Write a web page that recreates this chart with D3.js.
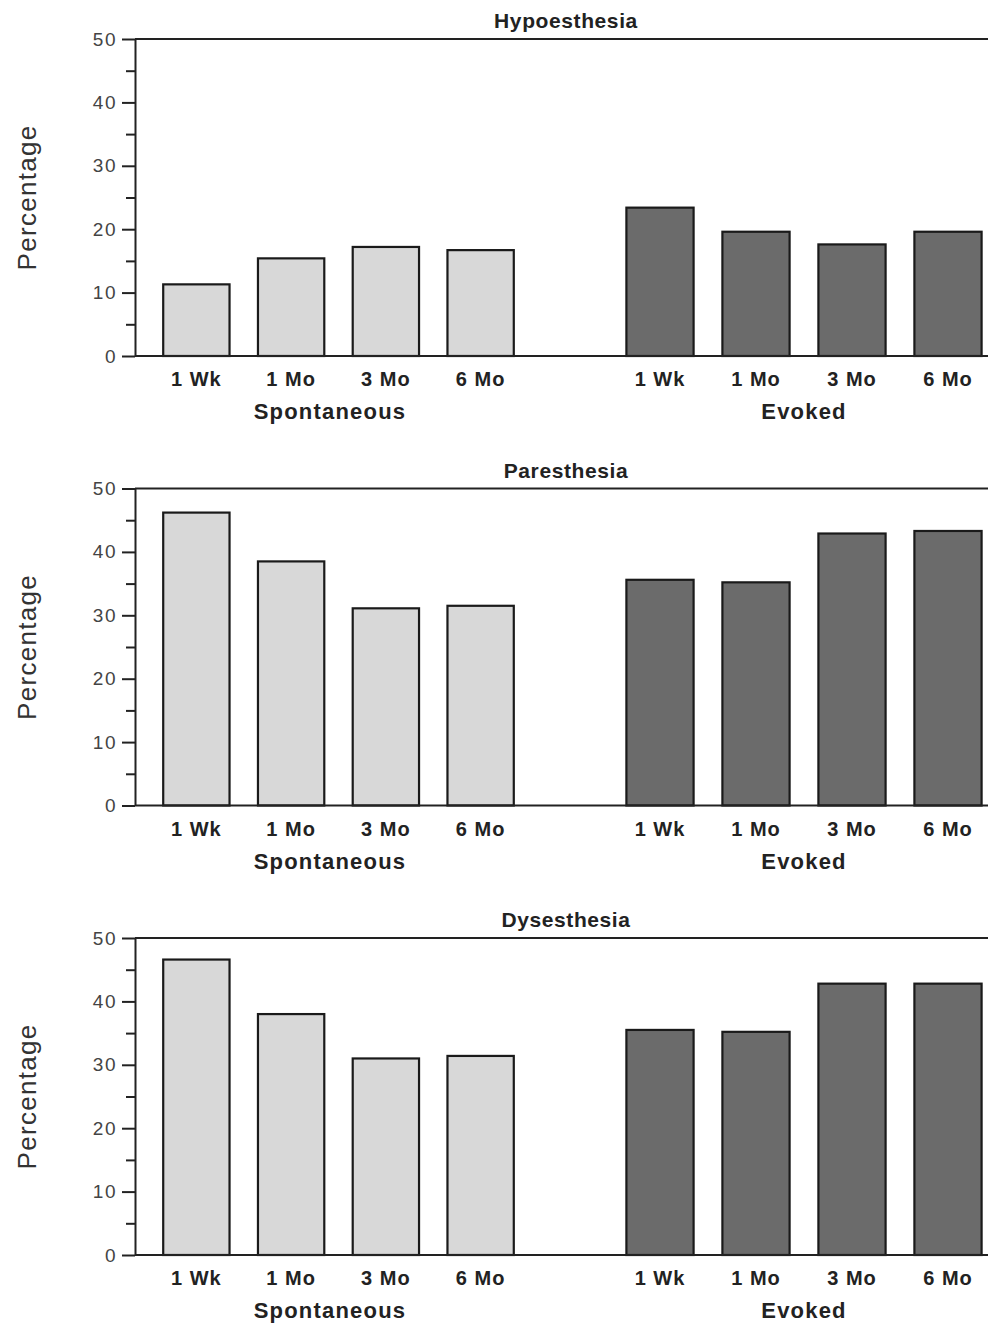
<!DOCTYPE html>
<html>
<head>
<meta charset="utf-8">
<script src="https://cdn.jsdelivr.net/npm/d3@7"></script>
<style>
  html, body { margin: 0; padding: 0; background: #fff; }
  svg { display: block; }
  text { font-family: "Liberation Sans", Arial, sans-serif; }
</style>
</head>
<body>
<div id="chart"></div>
<script>
// ---- Data ----
const timepoints = ["1 Wk", "1 Mo", "3 Mo", "6 Mo"];
const groups = ["Spontaneous", "Evoked"];
const panelTitles = ["Hypoesthesia", "Paresthesia", "Dysesthesia"];
const yTicks = [0, 10, 20, 30, 40, 50];
const yMinorTicks = [5, 15, 25, 35, 45];

const hypoSpontaneous = [11.3, 15.4, 17.2, 16.7];
const hypoEvoked      = [23.4, 19.6, 17.6, 19.6];
const paraSpontaneous = [46.2, 38.5, 31.1, 31.5];
const paraEvoked      = [35.6, 35.2, 42.9, 43.3];
const dysSpontaneous  = [46.6, 38.0, 31.0, 31.4];
const dysEvoked       = [35.5, 35.2, 42.8, 42.8];

const panels = [
  { title: panelTitles[0], series: [hypoSpontaneous, hypoEvoked] },
  { title: panelTitles[1], series: [paraSpontaneous, paraEvoked] },
  { title: panelTitles[2], series: [dysSpontaneous, dysEvoked] }
];

// ---- Layout ----
const W = 988, H = 1325;
const plotLeft = 135, plotRight = 996;
const panelTops = [39, 488.5, 938];
const plotH = 317;
const groupRanges = [[149, 528], [612, 996]];
const groupLabelX = [330, 804];
const groupFill = ["#d8d8d8", "#6b6b6b"];

const svg = d3.select("#chart").append("svg")
  .attr("width", W).attr("height", H);

panels.forEach((p, pi) => {
  const top = panelTops[pi];
  const g = svg.append("g").attr("transform", `translate(0,${top})`);
  const y = d3.scaleLinear().domain([0, 50]).range([plotH, 0]);

  // title
  g.append("text")
    .attr("x", 566).attr("y", -11)
    .attr("text-anchor", "middle")
    .attr("font-size", 21).attr("font-weight", "bold")
    .attr("letter-spacing", 0.6)
    .attr("fill", "#222")
    .text(p.title);

  // y label
  g.append("text")
    .attr("transform", `translate(36,${plotH / 2}) rotate(-90)`)
    .attr("text-anchor", "middle")
    .attr("font-size", 26)
    .attr("letter-spacing", 1.3)
    .attr("fill", "#333")
    .text("Percentage");

  // bars
  groups.forEach((grp, gi) => {
    const x = d3.scalePoint().domain(timepoints).range(groupRanges[gi]).padding(0.5);
    const bw = x.step() * 0.7;
    g.selectAll(null).data(p.series[gi]).enter().append("rect")
      .attr("x", (d, i) => x(timepoints[i]) - bw / 2)
      .attr("y", d => y(d))
      .attr("width", bw)
      .attr("height", d => plotH - y(d))
      .attr("fill", groupFill[gi])
      .attr("stroke", "#1a1a1a")
      .attr("stroke-width", 2.2);

    // tick labels
    g.selectAll(null).data(timepoints).enter().append("text")
      .attr("x", d => x(d))
      .attr("y", plotH + 30)
      .attr("text-anchor", "middle")
      .attr("font-size", 20).attr("font-weight", "bold")
      .attr("letter-spacing", 1)
      .attr("fill", "#222")
      .text(d => d);

    // group label
    g.append("text")
      .attr("x", groupLabelX[gi]).attr("y", plotH + 63)
      .attr("text-anchor", "middle")
      .attr("font-size", 22).attr("font-weight", "bold")
      .attr("letter-spacing", 1.2)
      .attr("fill", "#222")
      .text(grp);
  });

  // y axis
  const yAxis = d3.axisLeft(y).tickValues(yTicks).tickSize(13).tickPadding(5).tickSizeOuter(0);
  const ya = g.append("g").attr("transform", `translate(${plotLeft},0)`).call(yAxis);
  ya.select(".domain").attr("stroke", "#222").attr("stroke-width", 2);
  ya.selectAll(".tick line").attr("stroke", "#222").attr("stroke-width", 2);
  ya.selectAll(".tick text")
    .attr("font-size", 19).attr("fill", "#444")
    .attr("letter-spacing", 1.5)
    .attr("font-family", "Liberation Sans, Arial, sans-serif");
  // minor ticks
  const minor = d3.axisLeft(y).tickValues(yMinorTicks).tickSize(9).tickFormat("");
  const ym = g.append("g").attr("transform", `translate(${plotLeft},0)`).call(minor);
  ym.select(".domain").remove();
  ym.selectAll(".tick line").attr("stroke", "#222").attr("stroke-width", 2);

  // baseline and top frame line
  g.append("line")
    .attr("x1", plotLeft).attr("x2", plotRight)
    .attr("y1", y(0)).attr("y2", y(0))
    .attr("stroke", "#222").attr("stroke-width", 2);
  g.append("line")
    .attr("x1", plotLeft).attr("x2", plotRight)
    .attr("y1", y(50)).attr("y2", y(50))
    .attr("stroke", "#222").attr("stroke-width", 2);
});
</script>
</body>
</html>
